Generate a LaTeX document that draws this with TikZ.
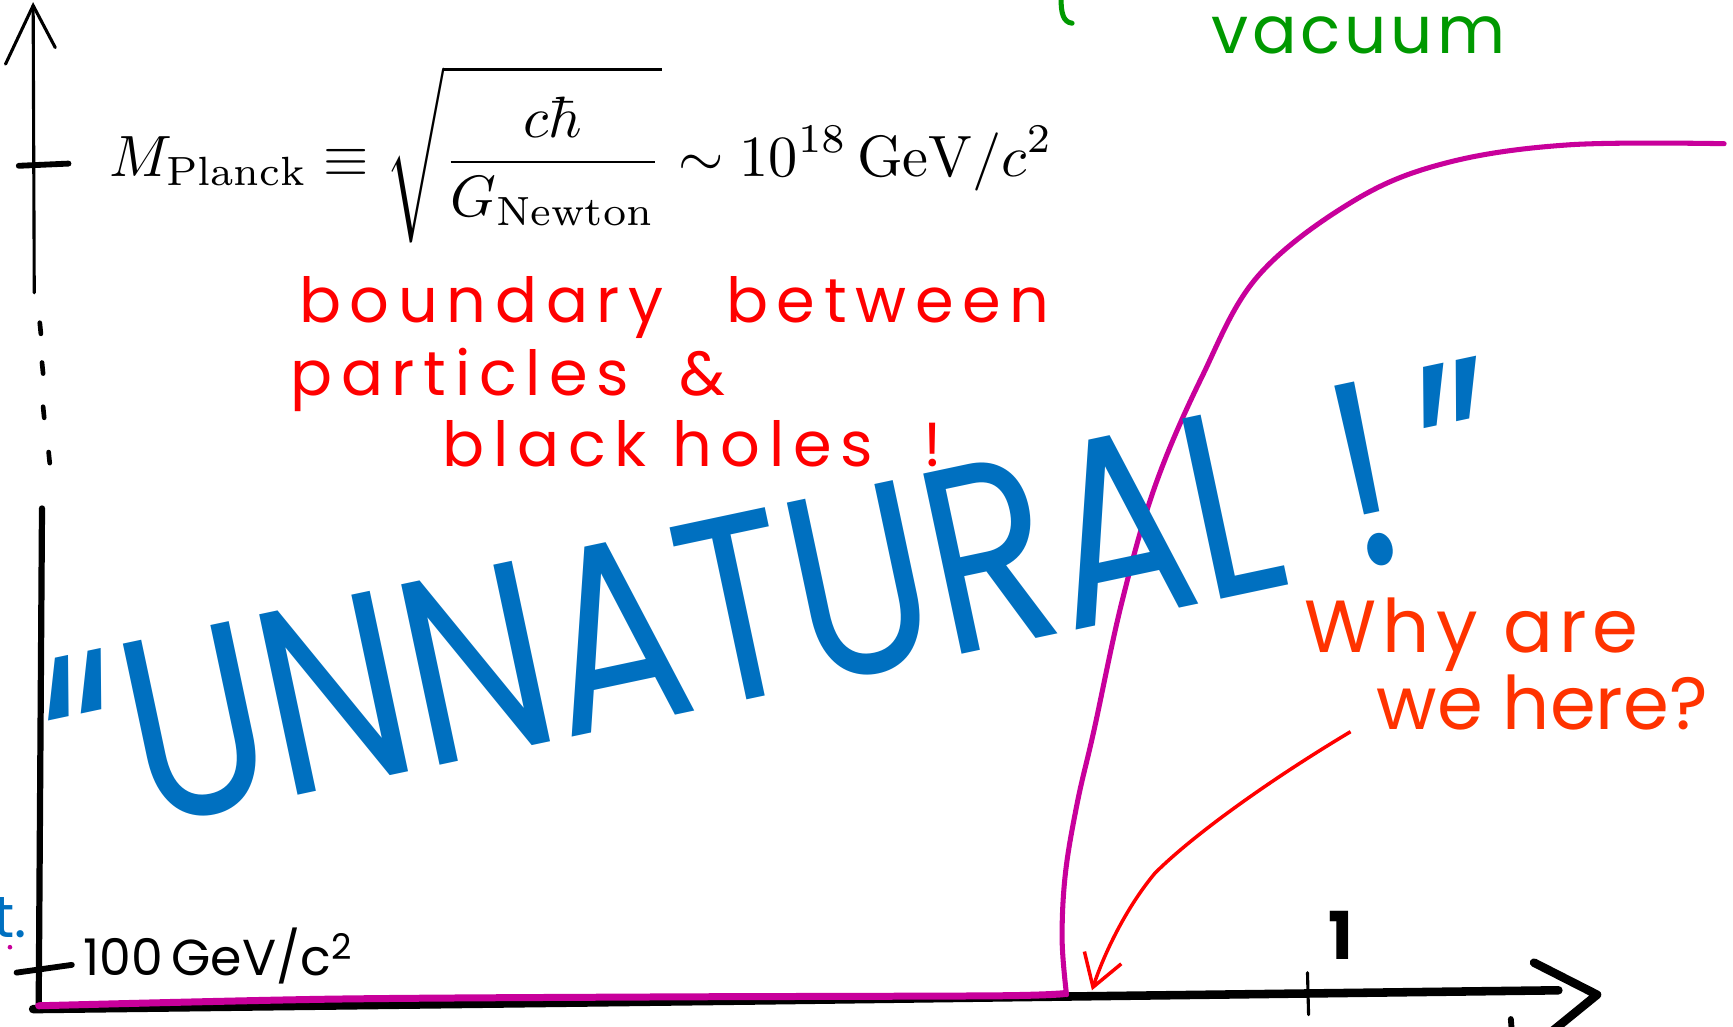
\documentclass[tikz,border=0pt]{standalone}
\usepackage{fontspec}
\newfontfamily\handfont{Poppins}
\usetikzlibrary{arrows.meta, positioning}
\definecolor{natblue}{HTML}{0070C0}
\definecolor{bhred}{HTML}{FF0000}
\definecolor{askred}{HTML}{FF3300}
\definecolor{curvemag}{HTML}{C8009B}
\definecolor{vacgreen}{HTML}{009900}

\begin{document}
\begin{tikzpicture}[x=0.01cm, y=-0.01cm,
  every node/.style={inner sep=0pt},
  axisline/.style={line width=2.2pt, line cap=round},
  thinline/.style={line width=0.8pt, line cap=round},
  tickline/.style={line width=1.5pt, line cap=round},
  formula/.style={scale=1.5},
  redtext/.style={text=bhred, font=\handfont\fontsize{16}{18}\selectfont\addfontfeature{LetterSpace=14}},
  asktext/.style={text=askred, font=\handfont\fontsize{19}{22}\selectfont},
  widetext/.style={text=askred, font=\handfont\fontsize{19}{22}\selectfont\addfontfeature{LetterSpace=8}},
  bigtext/.style={text=natblue, font=\handfont\fontsize{68}{70}\selectfont},
]
  \useasboundingbox (0,0) rectangle (1568,929);

  % axes
  \draw[thinline] (31,265) -- (30,5);
  \draw[thinline] (5,58) -- (30,5) -- (50,43);
  \foreach \x/\y in {36/297, 38/333, 39/373, 44/414}
    \draw[line width=1.2pt, line cap=round] (\x,{\y-5}) -- ({\x+1},{\y+5});
  \draw[line width=1.6pt, line cap=round] (38,460) -- (35,912);
  \draw[tickline] (17,150) -- (62,148);
  \draw[tickline] (15,880) -- (65,873);
  \draw[axisline] (30,913) -- (700,905) -- (1410,896);
  \draw[axisline, line join=round] (1388,871) -- (1445,900) -- (1402,935);
  \draw[thinline] (1183,880) -- (1184,918);
  \draw[tickline] (1367,922) -- (1368,935);

  % curve
  \draw[curvemag, line width=1.8pt, line cap=round] plot[smooth] coordinates {(35,910) (300,904) (600,902) (900,901) (963,899)};
  \draw[curvemag, line width=1.3pt, line cap=round] plot[smooth, tension=0.6] coordinates {(965,900) (961,850) (964,790) (975,725) (990,660) (1015,545) (1045,440) (1087,342) (1138,250) (1226,181) (1310,147) (1420,131) (1560,130)};

  % labels
  \node[formula, anchor=west] (planck) at (98,140) {$\displaystyle M_{\mathrm{Planck}} \equiv \sqrt{\frac{c\hbar}{G_{\mathrm{Newton}}}} \sim 10^{18}\,\mathrm{GeV}/c^2$};
  \node[redtext, anchor=base west] (boundary) at (270,292) {boundary\quad between};
  \node[redtext, anchor=base west] (particles) at (262,358) {particles\ \ \&};
  \node[redtext, anchor=base west] (holes) at (400,422) {black holes\ \ !};
  \node[bigtext, rotate=12, xscale=0.78] (unnatural) at (702,543) {“UNNATURAL\hspace{0.3em}!\hspace{0.15em}”};
  \node[widetext, anchor=base west] (why) at (1180,590) {Why are};
  \node[asktext, anchor=base west] (here) at (1245,660) {we here?};
  \node[text=vacgreen, font=\handfont\fontsize{17}{20}\selectfont\addfontfeature{LetterSpace=6}, anchor=base west] (vacuum) at (1095,48) {vacuum};
  \node[font=\handfont\fontsize{13}{14}\selectfont, anchor=base west] (ewscale) at (75,883) {100\,GeV/c\textsuperscript{2}};
  \node[font=\handfont\bfseries\fontsize{17}{18}\selectfont, anchor=base] (one) at (1213,868) {1};
  \node[text=natblue, font=\handfont\fontsize{15}{16}\selectfont, anchor=base east] (cut) at (25,848) {t.};
  \fill[curvemag] (9,857) circle (0.6pt);
  \draw[vacgreen, line width=1.3pt, line cap=round] (960,-2) .. controls (960,12) and (962,20) .. (970,21);

  % arrow
  \coordinate (askfrom) at (1222,662);
  \coordinate (askto) at (988,896);
  \draw[bhred, line width=0.9pt, -{Straight Barb[length=8pt, width=10pt]}] (askfrom) .. controls (1150,705) and (1080,755) .. (1045,790) .. controls (1020,820) and (1000,860) .. (askto);
\end{tikzpicture}
\end{document}
